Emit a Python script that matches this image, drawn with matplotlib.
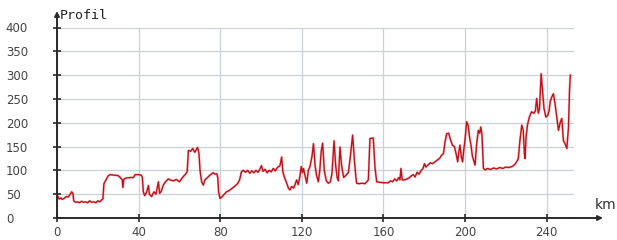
import matplotlib
matplotlib.use("Agg")
import matplotlib.pyplot as plt

# distance along route (km) and elevation (m)
km = [0, 0.5, 1, 2, 2.5, 3.5, 4.5, 5.5, 6.5, 7.2, 7.8, 8.2, 9, 10, 11, 12, 13, 14, 15, 16,
      17, 18, 19, 20, 21, 21.9, 22.5, 23, 24, 25, 26, 28, 30, 31, 32, 32.3, 32.8, 34, 36, 37.5,
      38.3, 40, 41.3, 41.8, 42.3, 43, 44, 44.8, 45.3, 46.4, 47.5, 48.5, 49.7, 50.3, 51, 52.1, 53, 54.5, 55.5, 57,
      58.5, 60, 61.9, 63, 63.8, 64.4, 65.5, 66.5, 67.5, 68.9, 69.6, 70.1, 70.9, 71.7, 72.5, 73.5, 75, 76.5, 77.5, 78.3,
      78.8, 79.2, 79.9, 81, 82, 83.1, 84.5, 86, 87.2, 88.5, 89.5, 90.4, 91.3, 92.5, 93.5, 94.5, 95.5, 96.5, 97.5, 98.5,
      99.5, 100.2, 101, 102, 103, 104, 105, 106, 107, 108, 109.3, 110.1, 110.7, 111.5, 112.6, 113.5, 114.2, 115, 116, 117.5,
      118.2, 119, 119.7, 120.3, 120.8, 121.5, 122.4, 123.2, 124, 125, 125.7, 126.5, 127.2, 128.1, 128.8, 129.5, 130.2, 131, 132, 133,
      134, 134.8, 135.8, 136.6, 137.3, 137.9, 138.7, 139.5, 140.5, 141.7, 142.8, 143.8, 144.9, 145.8, 146.5, 146.9, 148, 149.5, 151, 152.6,
      153.4, 155, 155.9, 156.7, 158, 160, 162.4, 163.5, 164.5, 165.5, 166.5, 167.5, 168.1, 168.6, 169.2, 170.5, 171.5, 172.5, 173.5, 174.7,
      175.5, 176.5, 177.5, 178.5, 179.4, 180.1, 180.8, 182, 183, 184, 185.3, 186.5, 187.5, 188.5, 189.4, 190.2, 191, 192, 192.8, 193.8,
      194.8, 195.6, 196.4, 197, 197.5, 198.2, 198.8, 199.3, 200, 200.8, 201.5, 202.2, 202.9, 203.6, 204.3, 204.9, 205.7, 206.5, 207.2, 207.7,
      208.3, 209, 209.8, 211, 212.5, 214, 215.5, 217, 218.5, 220, 221.5, 223, 223.7, 224.5, 225.3, 226.1, 226.9, 227.8, 228.5, 229.1,
      229.4, 229.9, 230.6, 231.5, 232.6, 233.8, 234.5, 235.1, 235.9, 236.5, 237.3, 238, 238.7, 239.6, 240.5, 241.2, 241.7, 242.5, 243.3, 244.1,
      245, 245.8, 246.6, 247.4, 248.2, 249, 249.9, 250.7, 251.2, 251.6]
elev = [48, 45, 40, 42, 39, 41, 45, 44, 50, 55, 52, 36, 33, 34, 32, 35, 33, 34, 32, 36,
        33, 34, 32, 36, 34, 38, 40, 72, 80, 88, 91, 90, 89, 85, 80, 64, 82, 84, 85, 85,
        91, 91, 90, 86, 55, 47, 55, 68, 50, 45, 55, 50, 76, 52, 55, 69, 75, 82, 80, 78,
        81, 76, 87, 92, 97, 142, 140, 146, 138, 148, 135, 100, 76, 69, 80, 84, 90, 95, 92, 93,
        85, 55, 41, 45, 50, 55, 58, 63, 67, 72, 80, 97, 100, 96, 100, 94, 99, 95, 100, 96,
        103, 110, 98, 102, 95, 100, 97, 104, 99, 106, 110, 128, 97, 85, 73, 62, 59, 66, 63, 80,
        70, 86, 108, 95, 104, 90, 73, 100, 108, 130, 156, 110, 90, 76, 100, 140, 157, 100, 78, 73,
        76, 95, 162, 110, 85, 78, 149, 110, 85, 90, 95, 130, 174, 120, 85, 73, 72, 73, 72, 80,
        167, 168, 104, 76, 75, 74, 74, 78, 76, 82, 78, 85, 80, 104, 80, 80, 82, 84, 88, 91,
        86, 96, 92, 100, 104, 114, 107, 112, 116, 114, 118, 122, 125, 132, 135, 160, 177, 178, 165, 153,
        150, 135, 118, 140, 153, 128, 118, 140, 165, 202, 195, 170, 153, 130, 120, 111, 156, 184, 178, 191,
        175, 104, 101, 104, 102, 105, 103, 106, 104, 107, 106, 108, 110, 113, 118, 125, 163, 195, 185, 135,
        125, 170, 195, 212, 223, 220, 225, 251, 220, 230, 303, 265, 230, 212, 215, 225, 244, 254, 261, 240,
        210, 184, 200, 209, 163, 156, 146, 191, 268, 300]

xticks = [0, 40, 80, 120, 160, 200, 240]
yticks = [0, 50, 100, 150, 200, 250, 300, 350, 400]

W, H = 617, 240
fig = plt.figure(figsize=(W / 100, H / 100), dpi=100)
fig.patch.set_facecolor("white")
ax = fig.add_axes([57 / W, 1 - 218 / H, (574 - 57) / W, (218 - 27.5) / H])
ax.set_facecolor("white")

ax.plot(km, elev, color="#f05050", lw=1.8, alpha=0.3, zorder=3)
ax.plot(km, elev, color="#c0101a", lw=1.0, zorder=4)

ax.set_xlim(0, 253.4)
ax.set_ylim(0, 400)
ax.set_xticks(xticks)
ax.set_yticks(yticks)
ax.set_xticklabels([str(v) for v in xticks])
ax.set_yticklabels([str(v) for v in yticks])
ax.grid(True, color="#cbd1d9", lw=0.9, zorder=1)

for s in ["top", "right"]:
    ax.spines[s].set_visible(False)
for s in ["left", "bottom"]:
    ax.spines[s].set_color("#2a2a2a")
    ax.spines[s].set_linewidth(1.4)
    ax.spines[s].set_zorder(5)

ax.tick_params(axis="both", direction="inout", length=6, width=1.2, color="#2a2a2a",
               labelsize=8.5, labelcolor="#444444")
ax.tick_params(axis="x", pad=3)
for lab in ax.get_yticklabels():
    lab.set_horizontalalignment("left")
ax.tick_params(axis="y", pad=(57 - 7 - 3) * 72 / 100)

# axis arrows
ax.annotate("", xy=((603 - 57) / 517, 0), xytext=(1.0, 0), xycoords="axes fraction",
            arrowprops=dict(arrowstyle="-|>", color="#2a2a2a", lw=1.4, mutation_scale=7,
                            shrinkA=0, shrinkB=0), annotation_clip=False)
ax.annotate("", xy=(0, (218 - 11) / 190.5), xytext=(0, 1.0), xycoords="axes fraction",
            arrowprops=dict(arrowstyle="-|>", color="#2a2a2a", lw=1.4, mutation_scale=7,
                            shrinkA=0, shrinkB=0), annotation_clip=False)

fig.text(595 / W, 1 - 205 / H, "km", fontsize=10, color="#333333", ha="left", va="center")
fig.text(60 / W, 1 - 15.5 / H, "Profil", fontsize=9.5, family="DejaVu Sans Mono",
         color="#222222", ha="left", va="center")

fig.savefig("out.png", dpi=100, facecolor="white")
